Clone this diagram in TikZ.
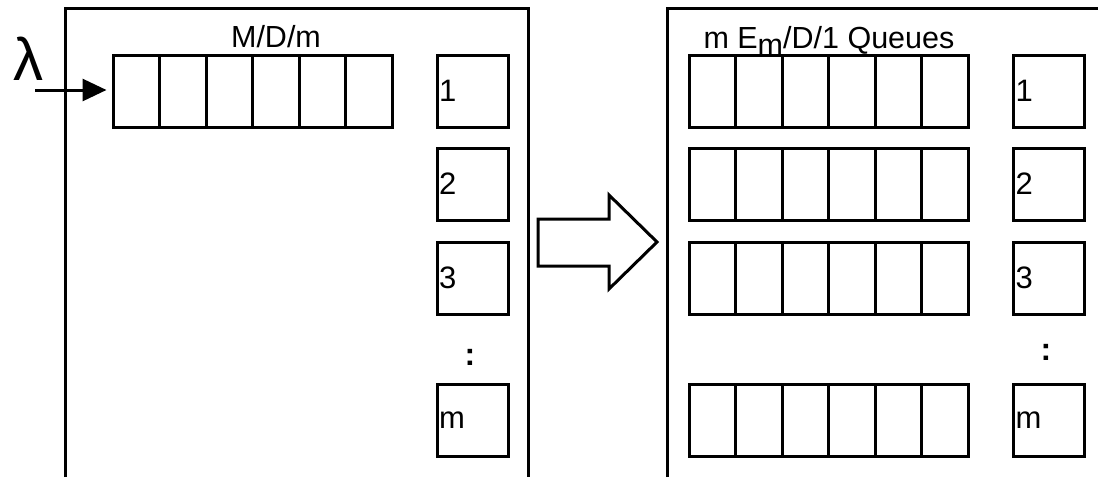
\documentclass[tikz,border=0pt]{standalone}
\usepackage{fontspec}
\setmainfont{Liberation Sans}
\usetikzlibrary{positioning,arrows.meta}

\begin{document}
\begin{tikzpicture}[x=1pt,y=-1pt,line width=3pt,
  slot/.style={draw,minimum width=46.5pt,minimum height=72pt,inner sep=0pt},
  server/.style={draw,minimum width=71pt,minimum height=72pt,inner sep=0pt},
  lbl/.style={font=\fontsize{31}{32}\selectfont,inner sep=0pt},
  title/.style={font=\fontsize{30.5}{32}\selectfont,inner sep=0pt},
  dots/.style={font=\bfseries\fontsize{32}{32}\selectfont,inner sep=0pt}]
\useasboundingbox (0,0) rectangle (1098,477);

% frames, open at the bottom
\draw (65,477) -- (65,8) -- (528,8) -- (528,477);
\draw (667,477) -- (667,8) -- (1098,8);

% M/D/m: one queue, m servers
\node[title,anchor=base] (mdm) at (276,47) {M/D/m};
\foreach \c in {1,...,6}
  \node[slot] (L\c) at ({89.75+46.5*\c},91) {};
\foreach \s/\y in {1/91,2/184,3/278,m/420}{
  \node[server] (LS\s) at (472.5,\y) {};
  \node[lbl,anchor=west] (LL\s) at ([xshift=2pt]LS\s.west) {\s};
}
\node[dots] (Ldots) at (470,357) {:};

% arrivals
\node[font=\fontsize{60}{62}\selectfont,inner sep=0pt,anchor=south] (lam) at (28,82) {λ};
\coordinate (arr) at (35,90);
\draw[-{Triangle[length=24pt,width=22pt]},shorten >=5pt] (arr) -- (arr -| L1.west);

% big arrow
\draw (538,219) -- (609,219) -- (609,195) -- (657,242) -- (609,289) -- (609,266) -- (538,266) -- cycle;

% m separate queues
\node[title,anchor=base west] (emd) at (702,48) {m E\raisebox{-7pt}{m}/D/1 Queues};
\foreach \r/\y in {1/91,2/184,3/278,4/420}
  \foreach \c in {1,...,6}
    \node[slot] (R\r\c) at ({665.75+46.5*\c},\y) {};
\foreach \s/\y in {1/91,2/184,3/278,m/420}{
  \node[server] (RS\s) at (1049,\y) {};
  \node[lbl,anchor=west] (RL\s) at ([xshift=2pt]RS\s.west) {\s};
}
\node[dots] (Rdots) at (1046,352) {:};
\end{tikzpicture}
\end{document}
